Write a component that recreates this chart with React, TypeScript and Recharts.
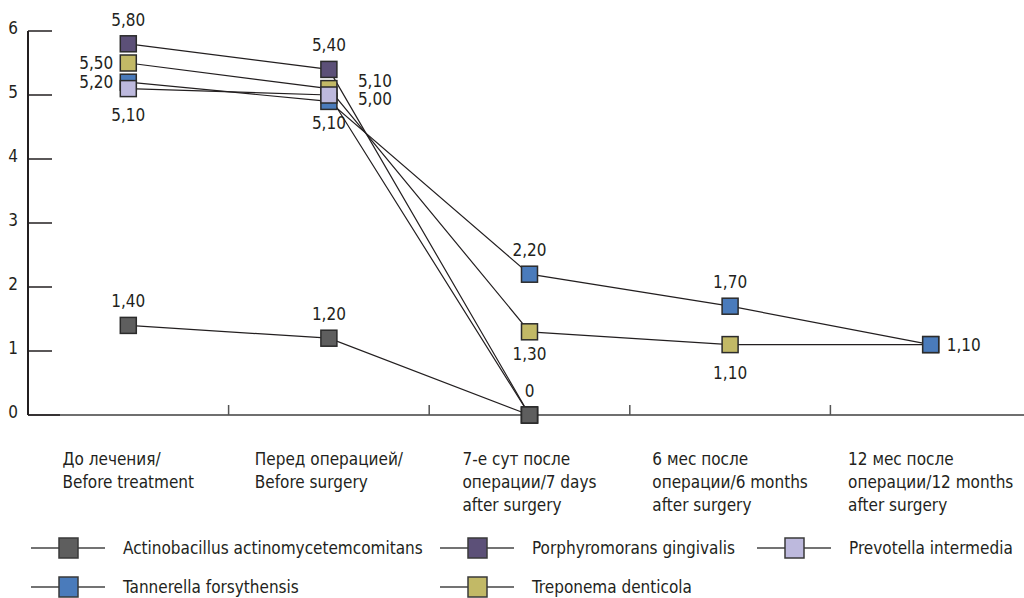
import React from "react";
import { LineChart, Line, XAxis, YAxis } from "recharts";

const FONT = "'DejaVu Sans Condensed', 'Liberation Sans Narrow', 'DejaVu Sans', sans-serif";
const INK = "#231f20";
const FS = 17;

const categories = [
  "До лечения/\nBefore treatment",
  "Перед операцией/\nBefore surgery",
  "7-е сут после\nоперации/7 days\nafter surgery",
  "6 мес после\nоперации/6 months\nafter surgery",
  "12 мес после\nоперации/12 months\nafter surgery",
];

const yTicks = [0, 1, 2, 3, 4, 5, 6];

// values as plotted (markers are nudged apart where they would overlap)
const actinobacillus = [1.4, 1.2, 0, null, null];
const porphyromonas = [5.8, 5.4, 0, null, null];
const prevotella = [5.1, 5.0, 0, null, null];
const tannerella = [5.2, 4.9, 2.2, 1.7, 1.1];
const treponema = [5.5, 5.1, 1.3, 1.1, 1.1];

// printed value labels
const actinobacillusLabels = ["1,40", "1,20", "0", null, null];
const porphyromonasLabels = ["5,80", "5,40", null, null, null];
const prevotellaLabels = ["5,10", "5,00", null, null, null];
const tannerellaLabels = ["5,20", "5,10", "2,20", "1,70", "1,10"];
const treponemaLabels = ["5,50", "5,10", "1,30", "1,10", null];

// where each label sits relative to its marker
const labelSides: Record<string, string[]> = {
  actinobacillus: ["top", "top", "top", "", ""],
  porphyromonas: ["top", "top", "", "", ""],
  prevotella: ["bottom", "downRight", "", "", ""],
  tannerella: ["left", "bottomNear", "top", "top", "right"],
  treponema: ["left", "upRight", "bottomNear", "bottomFar", ""],
};

const SIDE: Record<string, { dx: number; dy: number; anchor: "start" | "middle" | "end" }> = {
  top: { dx: 0, dy: -24, anchor: "middle" },
  bottom: { dx: 0, dy: 26, anchor: "middle" },
  bottomNear: { dx: 0, dy: 22, anchor: "middle" },
  bottomFar: { dx: 0, dy: 28, anchor: "middle" },
  left: { dx: -15, dy: 0, anchor: "end" },
  right: { dx: 16, dy: 0, anchor: "start" },
  upRight: { dx: 29, dy: -8, anchor: "start" },
  downRight: { dx: 29, dy: 4, anchor: "start" },
};

// legend order (two rows) vs draw order (later on top)
const series = [
  { key: "actinobacillus", name: "Actinobacillus actinomycetemcomitans", color: "#5e5e5e", values: actinobacillus, labels: actinobacillusLabels },
  { key: "porphyromonas", name: "Porphyromorans gingivalis", color: "#5c5078", values: porphyromonas, labels: porphyromonasLabels },
  { key: "prevotella", name: "Prevotella intermedia", color: "#bdb9dd", values: prevotella, labels: prevotellaLabels },
  { key: "tannerella", name: "Tannerella forsythensis", color: "#4a7bbb", values: tannerella, labels: tannerellaLabels },
  { key: "treponema", name: "Treponema denticola", color: "#c2b966", values: treponema, labels: treponemaLabels },
];
const drawOrder = ["porphyromonas", "treponema", "tannerella", "prevotella", "actinobacillus"];

const data = categories.map((cat, i) => {
  const row: Record<string, string | number | null> = { cat };
  series.forEach((s) => {
    row[s.key] = s.values[i];
  });
  return row;
});

const CHART_W = 1031;
const CHART_H = 598;
const Y_AXIS_W = 28;
const STEP = (CHART_W - Y_AXIS_W) / categories.length;

let ctx: CanvasRenderingContext2D | null = null;
function textWidth(s: string) {
  if (!ctx) ctx = document.createElement("canvas").getContext("2d");
  if (!ctx) return s.length * 8;
  ctx.font = `${FS}px ${FONT}`;
  return ctx.measureText(s).width;
}

function XTick(props: any) {
  const { x, y, payload, index } = props;
  const lines = String(payload.value).split("\n");
  const w = Math.max(...lines.map(textWidth));
  const left = x - w / 2;
  return (
    <g>
      {index < categories.length - 1 && (
        <line x1={x + STEP / 2} x2={x + STEP / 2} y1={y - 10} y2={y} stroke="#555" strokeWidth={1.5} />
      )}
      {lines.map((l, i) => (
        <text key={i} x={left} y={y + 50 + i * 23} fontSize={FS} fill={INK} fontFamily={FONT}>
          {l}
        </text>
      ))}
    </g>
  );
}

function YTick(props: any) {
  const { x, y, payload } = props;
  return (
    <g>
      <line x1={x + 8} x2={x + (payload.value === 0 ? 40 : 32)} y1={y} y2={y} stroke={INK} strokeWidth={1.5} />
      <text x={x - 2} y={y + 3} textAnchor="end" fontSize={FS} fill={INK} fontFamily={FONT}>
        {payload.value}
      </text>
    </g>
  );
}

function makeDot(s: (typeof series)[number]) {
  return (props: any) => {
    const { cx, cy, index } = props;
    if (cx == null || cy == null || s.values[index] == null) return <g key={`${s.key}-${index}`} />;
    const label = s.labels[index];
    const side = SIDE[labelSides[s.key][index]];
    return (
      <g key={`${s.key}-${index}`}>
        <rect x={cx - 8} y={cy - 8} width={16} height={16} fill={s.color} stroke="#2b2b2b" strokeWidth={1.5} />
        {label && side && (
          <text x={cx + side.dx} y={cy + side.dy + 6} textAnchor={side.anchor} fontSize={FS} fill={INK} fontFamily={FONT}>
            {label}
          </text>
        )}
      </g>
    );
  };
}

function LegendBox() {
  const cols = [0, 409, 726];
  const rows = [548, 587];
  return (
    <svg width={1024} height={80} style={{ position: "absolute", left: 0, top: 520 }}>
      {series.map((s, i) => {
        const col = cols[i % 3];
        const cy = rows[Math.floor(i / 3)] - 520;
        return (
          <g key={s.key}>
            <line x1={31 + col} x2={105 + col} y1={cy} y2={cy} stroke="#444" strokeWidth={1.5} />
            <rect x={59 + col} y={cy - 10} width={19} height={20} fill={s.color} stroke="#3a3a3a" strokeWidth={1.5} />
            <text x={123 + col} y={cy + 6} fontSize={FS} fill={INK} fontFamily={FONT}>
              {s.name}
            </text>
          </g>
        );
      })}
    </svg>
  );
}

export default function App() {
  return (
    <div style={{ position: "absolute", left: 0, top: 0, width: 1024, height: 598, overflow: "hidden", background: "#fff", fontFamily: FONT }}>
      <LineChart width={CHART_W} height={CHART_H} data={data} margin={{ top: 31, right: 0, bottom: 0, left: 0 }}>
        <XAxis
          dataKey="cat"
          height={CHART_H - 415}
          padding={{ left: STEP / 2, right: STEP / 2 }}
          tickLine={false}
          tickSize={0}
          tickMargin={0}
          axisLine={{ stroke: "#6f6f6f", strokeWidth: 2 }}
          tick={<XTick />}
          interval={0}
        />
        <YAxis
          width={Y_AXIS_W}
          domain={[0, 6]}
          ticks={yTicks}
          tickLine={false}
          tickSize={0}
          tickMargin={8}
          axisLine={{ stroke: INK, strokeWidth: 2 }}
          tick={<YTick />}
          interval={0}
        />
        {drawOrder.map((k) => {
          const s = series.find((d) => d.key === k)!;
          return (
            <Line
              key={k}
              dataKey={k}
              name={s.name}
              stroke={INK}
              strokeWidth={1.2}
              dot={makeDot(s)}
              activeDot={false}
              isAnimationActive={false}
            />
          );
        })}
      </LineChart>
      <LegendBox />
    </div>
  );
}
